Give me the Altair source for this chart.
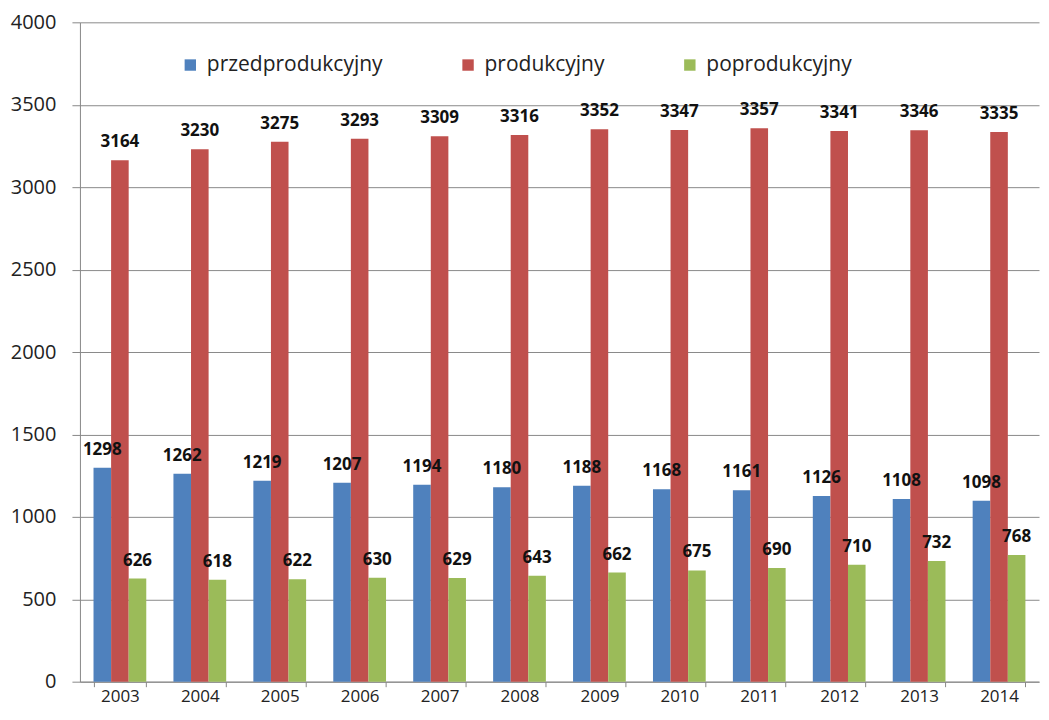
import altair as alt
import pandas as pd

years = ["2003", "2004", "2005", "2006", "2007", "2008", "2009", "2010", "2011", "2012", "2013", "2014"]
series = ["przedprodukcyjny", "produkcyjny", "poprodukcyjny"]
colors = ["#4F81BD", "#C0504D", "#9BBB59"]
przed = [1298, 1262, 1219, 1207, 1194, 1180, 1188, 1168, 1161, 1126, 1108, 1098]
prod = [3164, 3230, 3275, 3293, 3309, 3316, 3352, 3347, 3357, 3341, 3346, 3335]
popr = [626, 618, 622, 630, 629, 643, 662, 675, 690, 710, 732, 768]

rows = []
for name, vals in zip(series, [przed, prod, popr]):
    for y, v in zip(years, vals):
        rows.append({"rok": y, "grupa": name, "wartosc": v})
df = pd.DataFrame(rows)

FONT = "Open Sans"

x = alt.X("rok:N", sort=years, title=None,
          scale=alt.Scale(paddingInner=0.34, paddingOuter=0.17),
          axis=alt.Axis(labelAngle=0, labelFontSize=17, labelColor="#222222", labelFont=FONT,
                        tickBand="extent", tickSize=5, tickColor="#888888",
                        domainColor="#888888", labelPadding=2, grid=False))
xo = alt.XOffset("grupa:N", sort=series, scale=alt.Scale(paddingInner=0, paddingOuter=0))
y = alt.Y("wartosc:Q", title=None,
          scale=alt.Scale(domain=[0, 4000], nice=False),
          axis=alt.Axis(values=list(range(0, 4001, 500)), format="d", labelFontSize=20,
                        labelColor="#222222", labelFont=FONT, tickSize=8, tickColor="#888888",
                        domainColor="#888888", gridColor="#8a8a8a", gridWidth=1, labelPadding=16))

color = alt.Color("grupa:N", sort=series,
                  scale=alt.Scale(domain=series, range=colors),
                  legend=alt.Legend(title=None, orient="none", legendX=100, legendY=32,
                                    direction="horizontal", columnPadding=74, labelLimit=400,
                                    labelFontSize=21, labelFont=FONT, labelColor="#222222",
                                    symbolType="square", symbolSize=130, symbolStrokeWidth=0,
                                    labelOffset=6))

bars = alt.Chart(df).mark_bar().encode(x=x, xOffset=xo, y=y, color=color)
labels = alt.Chart(df).mark_text(baseline="alphabetic", dy=-13, fontSize=17,
                                 fontWeight="bold", font=FONT, color="#111111").encode(
    x=x, xOffset=xo, y=y, text="wartosc:Q")

chart = (bars + labels).properties(
    width=960, height=660,
    padding={"left": 2, "top": 4, "right": 2, "bottom": 4},
    background="white",
).configure_view(stroke=None)

chart.save("out.html", embed_options={"renderer": "svg", "actions": False})
